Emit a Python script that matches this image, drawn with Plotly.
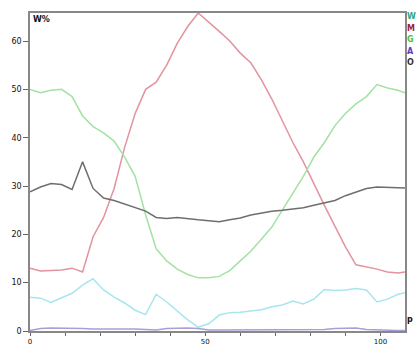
import plotly.graph_objects as go

x_vals = [0, 3, 6, 9, 12, 15, 18, 21, 24, 27, 30, 33, 36, 39, 42, 45, 48, 51, 54, 57,
          60, 63, 66, 69, 72, 75, 78, 81, 84, 87, 90, 93, 96, 99, 102, 105, 107]

cyan_vals = [7.0, 6.8, 5.9, 6.8, 7.8, 9.5, 10.8, 8.5, 7.0, 5.8, 4.3, 3.4, 7.6, 6.0, 4.2, 2.3, 0.8, 1.5,
             3.3, 3.8, 3.9, 4.1, 4.4, 5.0, 5.4, 6.2, 5.6, 6.6, 8.6, 8.4, 8.5, 8.8, 8.5, 6.0, 6.6, 7.6, 7.9]
red_vals = [13.0, 12.4, 12.5, 12.6, 13.0, 12.2, 19.5, 23.5, 29.5, 38.0, 45.0, 50.0, 51.5, 55.0, 59.5, 63.0,
            65.8, 64.0, 62.0, 60.0, 57.5, 55.5, 52.0, 48.0, 43.5, 39.0, 35.0, 30.4, 26.0, 21.7, 17.4, 13.7,
            13.3, 12.8, 12.2, 12.0, 12.2]
green_vals = [50.0, 49.3, 49.8, 50.0, 48.5, 44.5, 42.3, 41.0, 39.3, 36.0, 32.0, 24.0, 17.0, 14.5, 12.8, 11.7,
              11.0, 11.0, 11.3, 12.5, 14.5, 16.5, 19.0, 21.5, 25.0, 28.5, 32.0, 36.0, 39.0, 42.5, 45.0, 47.0,
              48.5, 51.0, 50.3, 49.8, 49.3]
purple_vals = [0.1, 0.5, 0.6, 0.6, 0.5, 0.5, 0.4, 0.4, 0.5, 0.5, 0.4, 0.3, 0.2, 0.5, 0.6, 0.6, 0.5, 0.2,
               0.2, 0.2, 0.3, 0.3, 0.3, 0.3, 0.2, 0.2, 0.2, 0.2, 0.3, 0.5, 0.6, 0.6, 0.3, 0.2, 0.1, 0.1, 0.1]
gray_vals = [28.8, 29.8, 30.5, 30.3, 29.3, 35.0, 29.5, 27.5, 27.0, 26.3, 25.5, 24.8, 23.5, 23.3, 23.5, 23.2,
             23.0, 22.8, 22.6, 23.0, 23.4, 24.0, 24.4, 24.8, 25.0, 25.3, 25.5, 26.0, 26.5, 27.0, 28.0, 28.8,
             29.5, 29.8, 29.7, 29.6, 29.6]

series_names = ["W", "M", "G", "A", "O"]
line_colors = ["#a6e6ec", "#e3939d", "#a3e2a3", "#a79fd8", "#6e6e6e"]
legend_colors = ["#2fa585", "#a0203c", "#4cbc4c", "#5a40c0", "#333333"]
series_vals = [cyan_vals, red_vals, green_vals, purple_vals, gray_vals]

y_ticks = [0, 10, 20, 30, 40, 50, 60]
x_ticks = [0, 10, 20, 30, 40, 50, 60, 70, 80, 90, 100]
x_ticktext = ["0", "", "", "", "", "50", "", "", "", "", "100"]

fig = go.Figure()
for name, vals, col in zip(series_names, series_vals, line_colors):
    fig.add_trace(go.Scatter(x=x_vals, y=vals, mode="lines", name=name,
                             line=dict(color=col, width=1.5), showlegend=False))

for i, (name, col) in enumerate(zip(series_names, legend_colors)):
    fig.add_annotation(xref="paper", yref="paper", x=1.0, y=1.005 - i * 0.036,
                       xanchor="left", yanchor="top", showarrow=False, borderpad=0,
                       xshift=1, text="<b>" + name + "</b>",
                       font=dict(size=8, color=col, family="DejaVu Sans"))

fig.add_annotation(xref="paper", yref="paper", x=0.006, y=0.998, xanchor="left", yanchor="top",
                   showarrow=False, borderpad=0, text="<b>W%</b>",
                   font=dict(size=8, color="#111", family="DejaVu Sans"))
fig.add_annotation(xref="paper", yref="paper", x=1.0, y=0.02, xanchor="left", yanchor="bottom",
                   showarrow=False, borderpad=0, xshift=1, text="<b>p</b>",
                   font=dict(size=8, color="#111", family="DejaVu Sans"))

axis_common = dict(showline=True, linecolor="#888", linewidth=1.5, mirror=True, automargin=False,
                   ticks="outside", tickcolor="#666", showgrid=False, zeroline=False)
fig.update_xaxes(range=[0, 107], tickvals=x_ticks, ticktext=x_ticktext, ticklen=3,
                 tickfont=dict(size=7, color="#111", family="DejaVu Sans"), **axis_common)
fig.update_yaxes(range=[0, 65.8], tickvals=y_ticks, ticklen=5,
                 tickfont=dict(size=8, color="#111", family="DejaVu Sans"), **axis_common)

fig.update_layout(width=416, height=345, margin=dict(l=30, r=11, t=13, b=14, autoexpand=False),
                  paper_bgcolor="white", plot_bgcolor="white", showlegend=False)

# remove the page's default body margin so the 416x345 figure fills the window exactly
page_js = "document.body.style.margin='0';document.body.style.overflow='hidden';"
fig.write_html("out.html", post_script=page_js, config={"displayModeBar": False})
